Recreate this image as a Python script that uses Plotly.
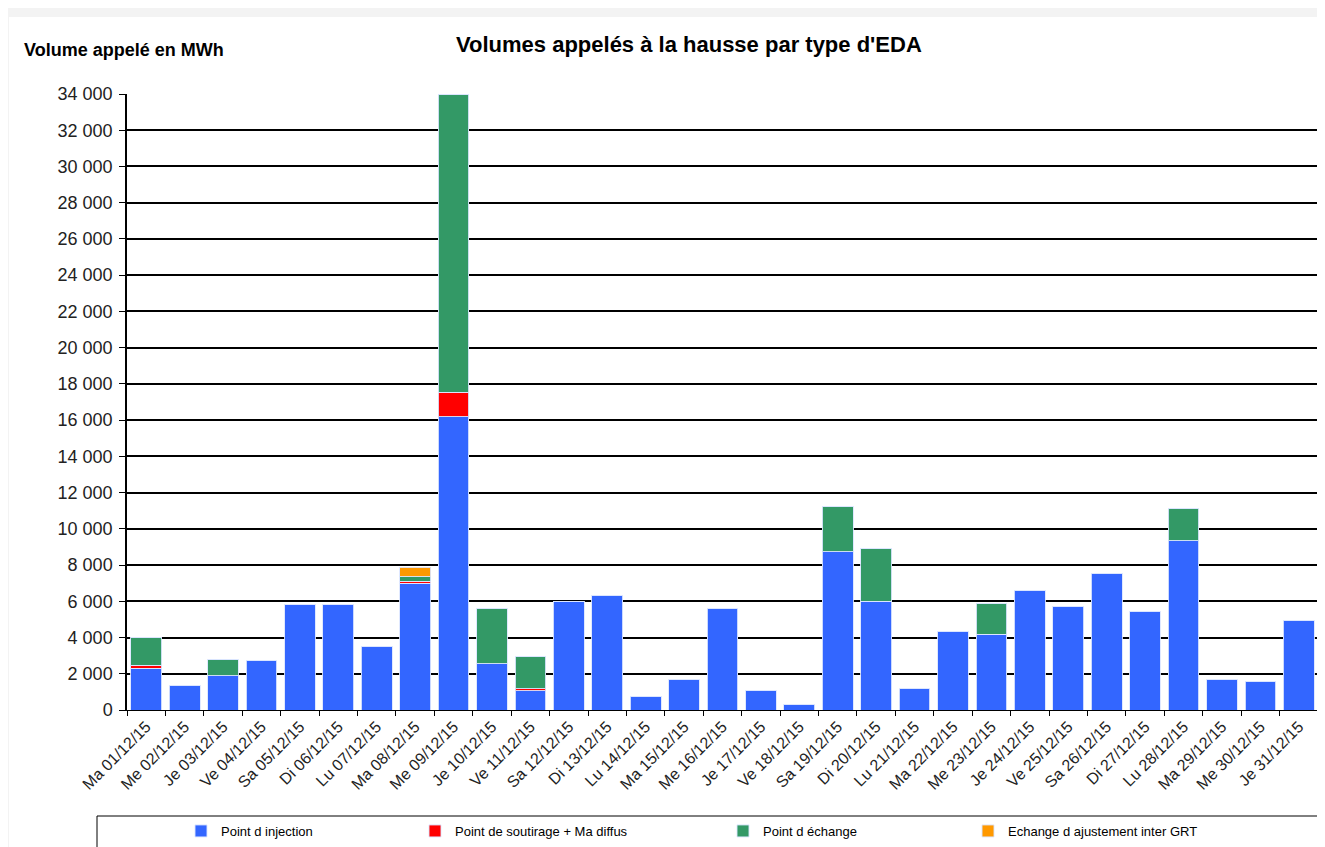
import plotly.graph_objects as go

dates = ["Ma 01/12/15", "Me 02/12/15", "Je 03/12/15", "Ve 04/12/15", "Sa 05/12/15",
         "Di 06/12/15", "Lu 07/12/15", "Ma 08/12/15", "Me 09/12/15", "Je 10/12/15",
         "Ve 11/12/15", "Sa 12/12/15", "Di 13/12/15", "Lu 14/12/15", "Ma 15/12/15",
         "Me 16/12/15", "Je 17/12/15", "Ve 18/12/15", "Sa 19/12/15", "Di 20/12/15",
         "Lu 21/12/15", "Ma 22/12/15", "Me 23/12/15", "Je 24/12/15", "Ve 25/12/15",
         "Sa 26/12/15", "Di 27/12/15", "Lu 28/12/15", "Ma 29/12/15", "Me 30/12/15",
         "Je 31/12/15"]

injection = [2300, 1340, 1880, 2720, 5830, 5830, 3480, 7000, 16190, 2540,
             1050, 6000, 6330, 735, 1690, 5630, 1090, 295, 8740, 6000,
             1160, 4340, 4190, 6590, 5720, 7520, 5450, 9330, 1690, 1580, 4950]
soutirage = [180, 0, 0, 0, 0, 0, 0, 100, 1340, 0,
             110, 0, 0, 0, 0, 0, 0, 0, 0, 0,
             0, 0, 0, 0, 0, 0, 0, 0, 0, 0, 0]
echange = [1500, 0, 920, 0, 0, 0, 0, 260, 16470, 3070,
           1780, 0, 0, 0, 0, 0, 0, 0, 2480, 2890,
           0, 0, 1700, 0, 0, 0, 0, 1800, 0, 0, 0]
ajustement = [0, 0, 0, 0, 0, 0, 0, 520, 0, 0,
              0, 0, 0, 0, 0, 0, 0, 0, 0, 0,
              0, 0, 0, 0, 0, 0, 0, 0, 0, 0, 0]

series = [
    ("Point d injection", injection, "#3366FF", "legend"),
    ("Point de soutirage + Ma diffus", soutirage, "#FF0000", "legend2"),
    ("Point d échange", echange, "#339966", "legend3"),
    ("Echange d ajustement inter GRT", ajustement, "#FF9900", "legend4"),
]

y_ticks = list(range(0, 34001, 2000))

fig = go.Figure()
for name, vals, color, lg in series:
    fig.add_trace(go.Bar(
        x=dates, y=vals, name=name, legend=lg, showlegend=True,
        marker=dict(color=color, line=dict(color="rgba(220,230,255,0.9)", width=1)),
    ))

# pixel helpers (screen coordinates; page body adds an 8px offset)
OFF = 8
FW, FH = 1325, 847
L, R, T, B = 127 - OFF, 1318 - OFF, 94 - OFF, 710 - OFF
W, H = R - L, B - T
def px(x): return (x - OFF - L) / W
def py(y): return (B - (y - OFF)) / H
def cx(x): return (x - OFF) / FW
def cy(y): return 1 - (y - OFF) / FH

legend_common = dict(
    orientation="h", yanchor="middle", xanchor="left",
    xref="container", yref="container",
    bgcolor="rgba(0,0,0,0)", borderwidth=0,
    font=dict(family="Liberation Sans, Arial", size=13, color="#000"),
    itemclick=False, itemdoubleclick=False,
)
fig.update_layout(
    width=FW, height=FH,
    margin=dict(l=L, r=FW - R, t=T, b=FH - B, autoexpand=False),
    paper_bgcolor="#F3F3F3", plot_bgcolor="white",
    barmode="stack", bargap=0.2,
    separators=", ",
    showlegend=True,
    font=dict(family="Liberation Sans, Arial", color="#000"),
    legend=dict(x=cx(181), y=cy(831), **legend_common),
    legend2=dict(x=cx(415), y=cy(831), **legend_common),
    legend3=dict(x=cx(723), y=cy(831), **legend_common),
    legend4=dict(x=cx(968), y=cy(831), **legend_common),
    xaxis=dict(
        type="category", tickangle=-45, ticks="outside", tickson="boundaries",
        ticklen=5, tickcolor="#000", showline=True, linecolor="#000", linewidth=1,
        tickfont=dict(size=16, color="#222"), showgrid=False, automargin=False,
    ),
    yaxis=dict(
        range=[0, 34000], tickvals=y_ticks, tickformat=",d",
        ticks="outside", ticklen=6, tickcolor="#000", ticklabelstandoff=3,
        showline=True, linecolor="#000", linewidth=1.5,
        showgrid=True, gridcolor="#000", gridwidth=1.5,
        tickfont=dict(size=18, color="#222"), zeroline=False, automargin=False,
    ),
    shapes=[
        dict(type="rect", xref="paper", yref="paper", layer="below",
             x0=px(9), x1=px(1340), y0=py(870), y1=py(17),
             fillcolor="white", line=dict(width=0)),
        dict(type="line", xref="paper", yref="paper",
             x0=1, x1=1, y0=0, y1=1, line=dict(color="#999", width=1)),
        dict(type="rect", xref="paper", yref="paper",
             x0=px(97), x1=px(1320), y0=py(870), y1=py(816),
             line=dict(color="#000", width=1), fillcolor="rgba(0,0,0,0)"),
    ],
    annotations=[
        dict(text="<b>Volumes appelés à la hausse par type d'EDA</b>",
             xref="paper", yref="paper", x=px(689), y=py(45),
             xanchor="center", yanchor="middle", showarrow=False,
             font=dict(size=22, color="#000")),
        dict(text="<b>Volume appelé en MWh</b>",
             xref="paper", yref="paper", x=px(22), y=py(50),
             xanchor="left", yanchor="middle", showarrow=False,
             font=dict(size=18, color="#000")),
    ],
)

fig.write_html("out.html")
